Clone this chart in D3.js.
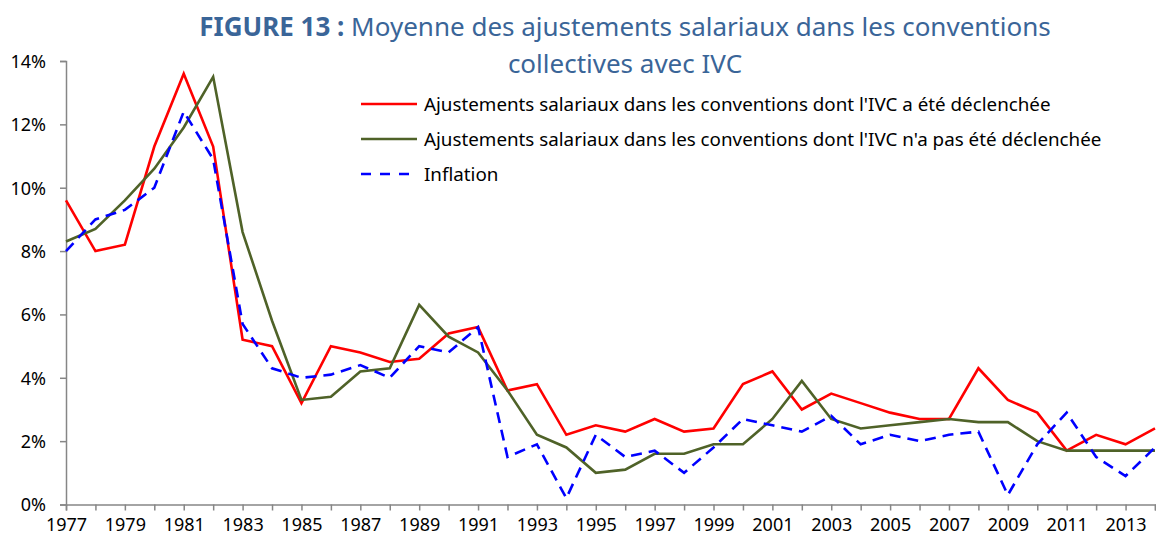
<!DOCTYPE html>
<html>
<head>
<meta charset="utf-8">
<script src="https://cdn.jsdelivr.net/npm/d3@7"></script>
<style>
  body { margin: 0; background: #fff; }
  svg { display: block; font-family: "Noto Sans", sans-serif; }
</style>
</head>
<body>
<div id="chart"></div>
<script>
// data (en %)
var years = [1977, 1978, 1979, 1980, 1981, 1982, 1983, 1984, 1985, 1986,
             1987, 1988, 1989, 1990, 1991, 1992, 1993, 1994, 1995, 1996,
             1997, 1998, 1999, 2000, 2001, 2002, 2003, 2004, 2005, 2006,
             2007, 2008, 2009, 2010, 2011, 2012, 2013, 2014];
var declenchee = [9.6, 8.0, 8.2, 11.3, 13.6, 11.3, 5.2, 5.0, 3.2, 5.0,
                  4.8, 4.5, 4.6, 5.4, 5.6, 3.6, 3.8, 2.2, 2.5, 2.3,
                  2.7, 2.3, 2.4, 3.8, 4.2, 3.0, 3.5, 3.2, 2.9, 2.7,
                  2.7, 4.3, 3.3, 2.9, 1.7, 2.2, 1.9, 2.4];
var nonDeclenchee = [8.3, 8.7, 9.6, 10.6, 11.9, 13.5, 8.6, 5.8, 3.3, 3.4,
                     4.2, 4.3, 6.3, 5.3, 4.8, 3.6, 2.2, 1.8, 1.0, 1.1,
                     1.6, 1.6, 1.9, 1.9, 2.7, 3.9, 2.7, 2.4, 2.5, 2.6,
                     2.7, 2.6, 2.6, 2.0, 1.7, 1.7, 1.7, 1.7];
var inflation = [8.0, 9.0, 9.3, 10.0, 12.4, 10.9, 5.7, 4.3, 4.0, 4.1,
                 4.4, 4.0, 5.0, 4.8, 5.6, 1.5, 1.9, 0.2, 2.2, 1.5,
                 1.7, 1.0, 1.8, 2.7, 2.5, 2.3, 2.8, 1.9, 2.2, 2.0,
                 2.2, 2.3, 0.3, 1.9, 2.9, 1.5, 0.9, 1.8];
var yearLabels = [1977, 1979, 1981, 1983, 1985, 1987, 1989, 1991, 1993, 1995,
                  1997, 1999, 2001, 2003, 2005, 2007, 2009, 2011, 2013];
var yTicks = [0, 2, 4, 6, 8, 10, 12, 14];
var seriesNames = [
  "Ajustements salariaux dans les conventions dont l'IVC a été déclenchée",
  "Ajustements salariaux dans les conventions dont l'IVC n'a pas été déclenchée",
  "Inflation"
];

var W = 1156, H = 539;
var margin = {top: 61, right: 1, bottom: 34.5, left: 66};
var width = W - margin.left - margin.right,
    height = H - margin.top - margin.bottom;

var svg = d3.select("#chart").append("svg")
    .attr("width", W)
    .attr("height", H);

// title
var title = svg.append("text")
    .attr("text-anchor", "middle")
    .attr("fill", "#3a6598")
    .style("font-size", "26px");
title.append("tspan")
    .attr("x", 625).attr("y", 36)
    .style("font-weight", "bold")
    .text("FIGURE 13 : ");
title.append("tspan")
    .text("Moyenne des ajustements salariaux dans les conventions");
svg.append("text")
    .attr("x", 625).attr("y", 73)
    .attr("text-anchor", "middle")
    .attr("fill", "#3a6598")
    .style("font-size", "26px")
    .text("collectives avec IVC");

var g = svg.append("g")
    .attr("transform", "translate(" + margin.left + "," + margin.top + ")");

var x = d3.scaleLinear()
    .domain([years[0], years[years.length - 1]])
    .range([0, width]);
var y = d3.scaleLinear()
    .domain([0, 14])
    .range([height, 0]);

// X axis
var xAxis = g.append("g")
    .attr("transform", "translate(0," + height + ")")
    .call(d3.axisBottom(x)
        .tickValues(years)
        .tickSize(6)
        .tickPadding(8)
        .tickFormat(function(d) { return yearLabels.indexOf(d) >= 0 ? d : ""; }));

// Y axis
var yAxis = g.append("g")
    .call(d3.axisLeft(y)
        .tickValues(yTicks)
        .tickSize(6)
        .tickPadding(14)
        .tickFormat(function(d) { return d + "%"; }));

[xAxis, yAxis].forEach(function(a) {
  a.select(".domain").attr("stroke", "#868686").attr("stroke-width", 1.5);
  a.selectAll(".tick line").attr("stroke", "#868686").attr("stroke-width", 1.5);
  a.selectAll("text")
    .attr("fill", "#000")
    .style("font-family", "'Noto Sans', sans-serif")
    .style("font-size", "18px");
});
yAxis.selectAll(".tick text").attr("dy", "0.35em");

var series = [
  {name: seriesNames[0], values: declenchee, color: "#ff0000", dash: null},
  {name: seriesNames[1], values: nonDeclenchee, color: "#4f6228", dash: null},
  {name: seriesNames[2], values: inflation, color: "#0000ff", dash: "11,7"}
];

var line = d3.line()
    .x(function(d, i) { return x(years[i]); })
    .y(function(d) { return y(d); });

g.selectAll(".serie")
  .data(series)
  .enter()
  .append("path")
    .attr("class", "serie")
    .attr("d", function(d) { return line(d.values); })
    .attr("fill", "none")
    .attr("stroke", function(d) { return d.color; })
    .attr("stroke-width", 2.6)
    .attr("stroke-linejoin", "miter")
    .attr("stroke-dasharray", function(d) { return d.dash; });

// legend
var legend = svg.append("g")
  .selectAll("g")
  .data(series)
  .enter()
  .append("g")
    .attr("transform", function(d, i) { return "translate(361," + (104 + i * 35) + ")"; });
legend.append("line")
    .attr("x1", 0).attr("x2", function(d) { return d.dash ? 48 : 56; })
    .attr("y1", 0).attr("y2", 0)
    .attr("stroke", function(d) { return d.color; })
    .attr("stroke-width", 2.6)
    .attr("stroke-dasharray", function(d) { return d.dash ? "10,9" : null; });
legend.append("text")
    .attr("x", 63)
    .attr("y", 0)
    .attr("dy", "0.35em")
    .style("font-size", "18.8px")
    .attr("fill", "#000")
    .text(function(d) { return d.name; });
</script>
</body>
</html>
